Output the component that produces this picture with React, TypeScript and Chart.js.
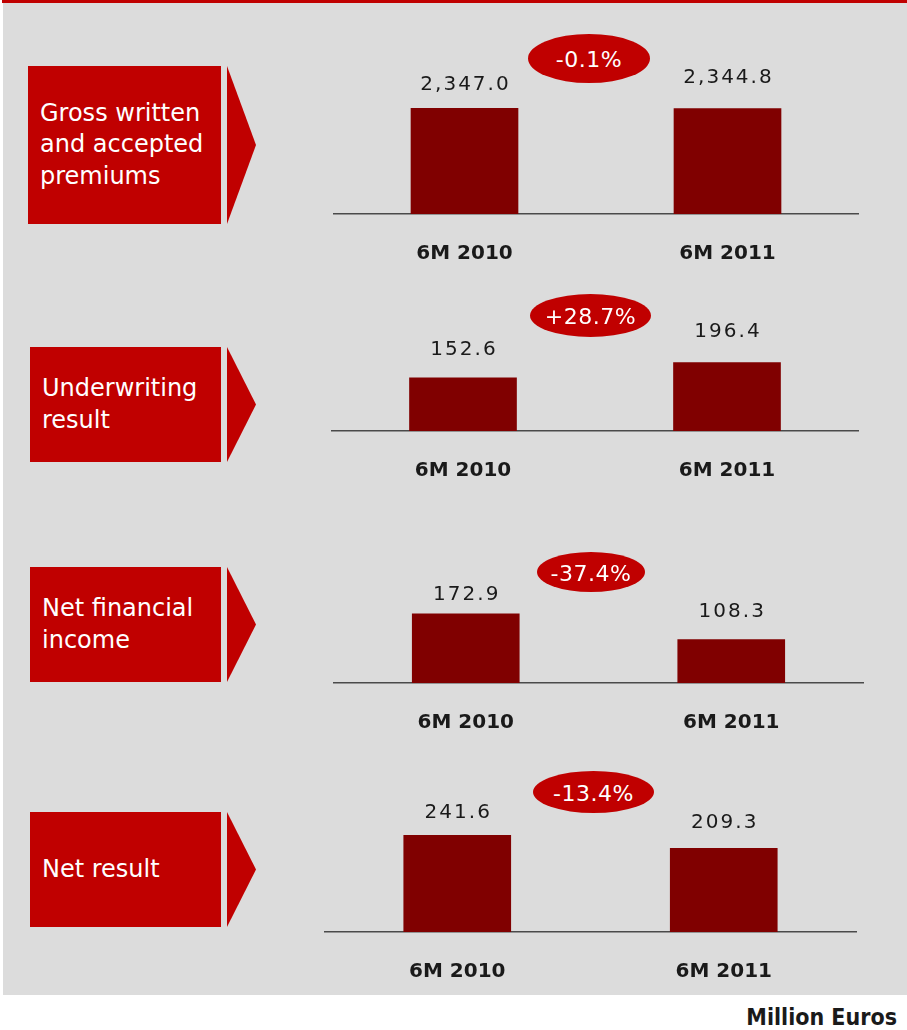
import React, { useEffect, useRef } from 'react';
import { Chart, registerables } from 'chart.js';

Chart.register(...registerables);

// ---------- DATA ----------
const categories = ['6M 2010', '6M 2011'];
const grossPremiums = [2347.0, 2344.8];
const underwritingResult = [152.6, 196.4];
const netFinancialIncome = [172.9, 108.3];
const netResult = [241.6, 209.3];
const panelTitles = [
  ['Gross written', 'and accepted', 'premiums'],
  ['Underwriting', 'result'],
  ['Net financial', 'income'],
  ['Net result'],
];
const changeLabels = ['-0.1%', '+28.7%', '-37.4%', '-13.4%'];
const unitLabel = 'Million Euros';

// ---------- LAYOUT / STYLE ----------
const RED = '#c00000';
const BAR = '#800000';
const GREY = '#dcdcdc';
const TEXT = '#1a1a1a';
const FONT = '"DejaVu Sans", Verdana, sans-serif';
const AXIS_H = 60;

const panels = [
  {
    values: grossPremiums,
    box: { x: 28, y: 66, w: 193, h: 158 },
    chart: { left: 333, right: 859, baseline: 214, area: 180, yMax: 4000 },
    ellipse: { cx: 589, cy: 58.5, w: 122, h: 49 },
    gaps: [18, 25],
  },
  {
    values: underwritingResult,
    box: { x: 30, y: 347, w: 191, h: 115 },
    chart: { left: 331, right: 859, baseline: 431, area: 150, yMax: 430 },
    ellipse: { cx: 590.5, cy: 315.5, w: 121, h: 43 },
    gaps: [23, 25],
  },
  {
    values: netFinancialIncome,
    box: { x: 30, y: 567, w: 191, h: 115 },
    chart: { left: 333, right: 864, baseline: 683, area: 150, yMax: 375 },
    ellipse: { cx: 591, cy: 572, w: 108, h: 40 },
    gaps: [14, 23],
  },
  {
    values: netResult,
    box: { x: 30, y: 812, w: 191, h: 115 },
    chart: { left: 324, right: 857, baseline: 932, area: 180, yMax: 450 },
    ellipse: { cx: 593.5, cy: 792, w: 121, h: 42 },
    gaps: [17, 20],
  },
];

const fmt = (v: number) =>
  v.toLocaleString('en-US', { minimumFractionDigits: 1, maximumFractionDigits: 1 });

const valueLabelPlugin = {
  id: 'valueLabels',
  afterDatasetsDraw(chart: any, _args: any, opts: any) {
    const { ctx } = chart;
    const meta = chart.getDatasetMeta(0);
    ctx.save();
    ctx.font = `20px ${FONT}`;
    try { (ctx as any).letterSpacing = '2px'; } catch (e) {}
    ctx.fillStyle = TEXT;
    ctx.textAlign = 'center';
    ctx.textBaseline = 'alphabetic';
    meta.data.forEach((bar: any, i: number) => {
      const v = chart.data.datasets[0].data[i];
      ctx.fillText(fmt(v), bar.x + 1, bar.y - (opts.gaps?.[i] ?? 20));
    });
    ctx.restore();
  },
};

function BarPanel({ p }: { p: any }) {
  const ref = useRef<HTMLCanvasElement>(null);
  useEffect(() => {
    const chart = new Chart(ref.current!, {
      type: 'bar',
      data: {
        labels: categories,
        datasets: [
          {
            data: p.values,
            backgroundColor: BAR,
            borderWidth: 0,
            barThickness: 107,
          },
        ],
      },
      options: {
        animation: false,
        responsive: true,
        maintainAspectRatio: false,
        events: [],
        layout: { padding: 0 },
        plugins: {
          legend: { display: false },
          tooltip: { enabled: false },
          valueLabels: { gaps: p.gaps },
        } as any,
        scales: {
          x: {
            grid: { display: false, drawTicks: false },
            border: { display: true, color: '#4a4a4a', width: 1.5 },
            ticks: {
              color: TEXT,
              font: { family: FONT, size: 20, weight: 'bold' },
              padding: 28,
              maxRotation: 0,
            },
            afterFit: (scale: any) => {
              scale.height = AXIS_H;
            },
          },
          y: {
            display: false,
            min: 0,
            max: p.chart.yMax,
          },
        },
      },
      plugins: [valueLabelPlugin],
    });
    return () => chart.destroy();
  }, []);
  const c = p.chart;
  return (
    <div
      style={{
        position: 'absolute',
        left: c.left,
        top: c.baseline - c.area,
        width: c.right - c.left,
        height: c.area + AXIS_H,
      }}
    >
      <canvas ref={ref} />
    </div>
  );
}

function LabelBox({ p, lines }: { p: any; lines: string[] }) {
  const b = p.box;
  return (
    <>
      <div
        style={{
          position: 'absolute',
          left: b.x,
          top: b.y,
          width: b.w,
          height: b.h,
          background: RED,
          color: '#fff',
          fontFamily: FONT,
          fontSize: 24,
          lineHeight: '31.5px',
          display: 'flex',
          flexDirection: 'column',
          justifyContent: 'center',
          paddingLeft: 12,
          boxSizing: 'border-box',
          whiteSpace: 'nowrap',
        }}
      >
        {lines.map((l, i) => (
          <div key={i}>{l}</div>
        ))}
      </div>
      <div
        style={{
          position: 'absolute',
          left: 227,
          top: b.y,
          width: 29,
          height: b.h,
          background: RED,
          clipPath: 'polygon(0 0, 100% 50%, 0 100%)',
        }}
      />
    </>
  );
}

function ChangeBadge({ p, text }: { p: any; text: string }) {
  const e = p.ellipse;
  return (
    <div
      style={{
        position: 'absolute',
        left: e.cx - e.w / 2,
        top: e.cy - e.h / 2,
        width: e.w,
        height: e.h,
        borderRadius: '50%',
        background: RED,
        color: '#fff',
        fontFamily: FONT,
        fontSize: 22,
        letterSpacing: '0.5px',
        display: 'flex',
        alignItems: 'center',
        justifyContent: 'center',
        whiteSpace: 'nowrap',
        paddingTop: 2,
        boxSizing: 'border-box',
      }}
    >
      {text}
    </div>
  );
}

export default function App() {
  return (
    <div
      style={{
        position: 'absolute',
        left: 0,
        top: 0,
        width: 907,
        height: 1030,
        background: '#fff',
        overflow: 'hidden',
      }}
    >
      <div style={{ position: 'absolute', left: 3, top: 3, width: 904, height: 992, background: GREY }} />
      <div style={{ position: 'absolute', left: 2, top: 0, width: 905, height: 3, background: RED }} />
      {panels.map((p, i) => (
        <React.Fragment key={i}>
          <LabelBox p={p} lines={panelTitles[i]} />
          <BarPanel p={p} />
          <ChangeBadge p={p} text={changeLabels[i]} />
        </React.Fragment>
      ))}
      <div
        style={{
          position: 'absolute',
          right: 10,
          top: 1003,
          fontFamily: '"DejaVu Sans Condensed", "DejaVu Sans", sans-serif',
          fontStretch: 'condensed',
          fontWeight: 'bold',
          fontSize: 23,
          lineHeight: '28px',
          color: TEXT,
          whiteSpace: 'nowrap',
        }}
      >
        {unitLabel}
      </div>
    </div>
  );
}
